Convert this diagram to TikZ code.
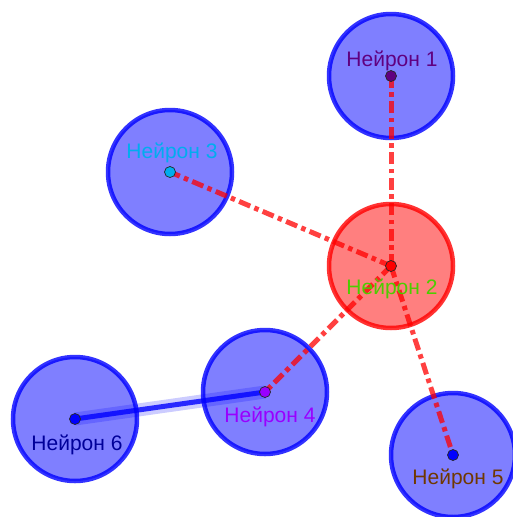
\documentclass[tikz,border=0pt]{standalone}
\usepackage{fontspec}
\setmainfont{Liberation Sans}
\begin{document}
\begin{tikzpicture}[x=1pt,y=-1pt,
  cell/.style={circle,minimum size=124pt,inner sep=0pt,line width=4.5pt,
    draw=blue,draw opacity=0.8,fill=blue,fill opacity=0.5},
  redcell/.style={cell,draw=red,fill=red},
  dot/.style={circle,minimum size=11pt,inner sep=0pt,draw=black!85,line width=0.7pt},
  lbl/.style={anchor=base,font=\fontsize{21}{24}\selectfont,inner sep=0pt},
  link/.style={draw=red,line width=5pt,draw opacity=0.75,
    dash pattern=on 12pt off 4.5pt on 4.5pt off 4.5pt},
  bond/.style={draw=blue,line width=5pt,draw opacity=0.8}]
\definecolor{c1}{RGB}{96,0,128}
\definecolor{c2}{RGB}{77,204,0}
\definecolor{c4}{RGB}{153,0,255}
\definecolor{c5}{RGB}{112,56,0}
\definecolor{c6}{RGB}{0,0,153}
\useasboundingbox (0,0) rectangle (513,517);
\fill[white] (0,0) rectangle (513,517);
% neuron bodies
\node[cell] (b1) at (391,76) {};
\node[cell] (b3) at (170,172) {};
\node[redcell] (b2) at (391,266) {};
\node[cell] (b4) at (265,392) {};
\node[cell] (b6) at (75,419) {};
\node[cell] (b5) at (453,455) {};
% centre points
\coordinate (q1) at (391,76);
\coordinate (q2) at (391,266);
\coordinate (q3) at (170,172);
\coordinate (q4) at (265,392);
\coordinate (q5) at (453,455);
\coordinate (q6) at (75,419);
% connections
\draw[link] (q2) -- (q1);
\draw[link] (q2) -- (q3);
\draw[link] (q2) -- (q4);
\draw[link] (q2) -- (q5);
\draw[draw=blue,line width=13pt,draw opacity=0.2] (q6) -- (q4);
\draw[bond] (q6) -- (q4);
\node[dot,fill=c1] (p1) at (q1) {};
\node[dot,fill=red] (p2) at (q2) {};
\node[dot,fill=cyan] (p3) at (q3) {};
\node[dot,fill=c4] (p4) at (q4) {};
\node[dot,fill=blue] (p5) at (q5) {};
\node[dot,fill=blue] (p6) at (q6) {};
% labels
\node[lbl,text=c1] (t1) at (392,66) {Нейрон 1};
\node[lbl,text=c2] (t2) at (392,294) {Нейрон 2};
\node[lbl,text=cyan] (t3) at (172,158) {Нейрон 3};
\node[lbl,text=c4] (t4) at (270,422) {Нейрон 4};
\node[lbl,text=c5] (t5) at (458,484) {Нейрон 5};
\node[lbl,text=c6] (t6) at (77,450) {Нейрон 6};
\end{tikzpicture}
\end{document}
